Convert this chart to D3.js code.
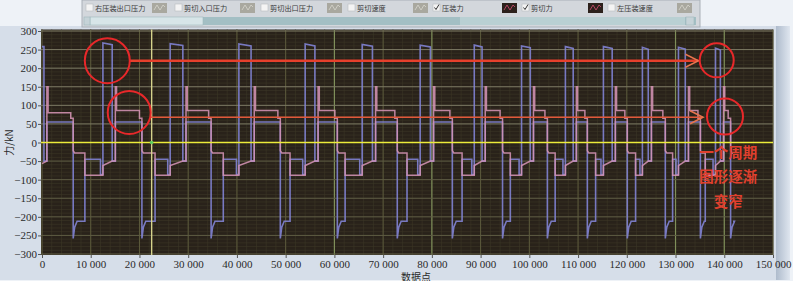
<!DOCTYPE html>
<html><head><meta charset="utf-8">
<script src="https://cdn.jsdelivr.net/npm/d3@7"></script>
<style>
body{margin:0;background:#ffffff;}
svg{display:block;}
</style></head>
<body>
<script>
// ---------------- data ----------------
const legendNames = ["右压装出口压力","剪切入口压力","剪切出口压力","剪切速度","压装力","剪切力","左压装速度"];
const legendChecked = [false,false,false,false,true,true,false];
const seriesNames = ["压装力","剪切力"];
const xTickValues = [0,10000,20000,30000,40000,50000,60000,70000,80000,90000,100000,110000,120000,130000,140000,150000];
const yTickValues = [-300,-250,-200,-150,-100,-50,0,50,100,150,200,250,300];
// cycle event times (data points)
const cycleDrop     = [6400,20500,34700,48900,60600,72900,84200,94500,103700,111900,120100,127900,135100,141300];
const cycleLowEnd   = [8800,23200,37200,50900,62200,74900,86200,96100,105300,113600,121800,129400,136100];
const cycleTopStart = [12500,26300,40400,54000,65700,77600,88700,98400,107400,115200,123200,130600,138200];
const cycleTopEnd   = [14400,28900,42900,56000,67800,79700,90300,100200,109000,117000,124400,132000,139200];
const cycleTop      = [268,266,265,265,264,262,262,260,258,258,256,256,254];
// levels (kN)
const levelsA = {start:258, mid:55, spike:-258, spike2:-228, low:-212, box:-45, box2:-86, after:-50, end:141800};
const levelsB = {start:-57, mid:86, first:80, preDrop:65, drop:-22, low:-28, box:-88, rampStart:-62, rampEnd:-50, step:150};
const phase = {firstTopEnd:400, firstRise:1000, spikeRec:300, spikeSettle:800, preDrop:500, boxDip:500, afterTop:650, stepLen:250};
// cursors
const cursorX = [22500];
const highlightX = [60000,80000,130000,140000];
// annotations (data coordinates)
const circles = [{x:13400,y:220,r:22.5},{x:17900,y:81,r:21.5},{x:138450,y:221,r:17},{x:140150,y:70,r:18}];
const arrows = [{x0:18050,x1:134700,y:220,w:2.3,c:"#e6402c"},{x0:22350,x1:135650,y:68,w:1.6,c:"#e2583a"}];
const noteLines = ["一个周期","图形逐渐","变窄"];
const noteY = [-28,-93,-160];
const noteX = 140800;

// ---------------- build series ----------------
function buildA(){
  const p=[];
  const L=levelsA;
  p.push([0,L.start],[phase.firstTopEnd,L.start],[phase.firstTopEnd,L.after],[phase.firstRise,L.after],[phase.firstRise,L.mid]);
  cycleDrop.forEach((D,i)=>{
    p.push([D,L.mid],[D,L.spike],[D+phase.spikeRec,L.spike2],[D+phase.spikeSettle,L.low]);
    if(i<cycleLowEnd.length){
      const Le=cycleLowEnd[i],T=cycleTopStart[i],E=cycleTopEnd[i];
      p.push([Le,L.low],[Le,L.box],[T-phase.boxDip,L.box],[T-phase.boxDip,L.box2],[T,L.box2],[T,cycleTop[i]],[E,cycleTop[i]-5],[E,L.after],[E+phase.afterTop,L.after],[E+phase.afterTop,L.mid]);
    } else {
      p.push([L.end,L.low]);
    }
  });
  return p;
}
function buildB(){
  const p=[];
  const L=levelsB;
  p.push([0,L.start],[phase.firstRise,L.rampEnd],[phase.firstRise,L.step],[phase.firstRise+phase.stepLen,L.step],[phase.firstRise+phase.stepLen,L.first]);
  cycleDrop.forEach((D,i)=>{
    const lvl = i===0?L.first:L.mid;
    p.push([D-phase.preDrop,lvl],[D-phase.preDrop,L.preDrop],[D,L.preDrop],[D,L.drop],[D+phase.spikeRec,L.low]);
    if(i<cycleLowEnd.length){
      const Le=cycleLowEnd[i],T=cycleTopStart[i],E=cycleTopEnd[i];
      p.push([Le,L.low],[Le,L.box],[T,L.box],[T,L.rampStart],[E,L.rampEnd],[E+phase.afterTop,L.rampEnd],[E+phase.afterTop,L.step],[E+phase.afterTop+phase.stepLen,L.step],[E+phase.afterTop+phase.stepLen,L.mid]);
    } else {
      p.push([levelsA.end,L.low]);
    }
  });
  return p;
}
const seriesA = buildA();
const seriesB = buildB();

// ---------------- drawing ----------------
const W=793,H=289;
const svg=d3.select("body").append("svg").attr("width",W).attr("height",H);
const defs=svg.append("defs");
const gr=defs.append("linearGradient").attr("id","rbar").attr("x1","0").attr("x2","1");
gr.append("stop").attr("offset","0").attr("stop-color","#aebbcc");
gr.append("stop").attr("offset","1").attr("stop-color","#dfe6ef");

svg.append("rect").attr("width",W).attr("height",H).attr("fill","#eef2f7");
svg.append("rect").attr("x",0).attr("y",26).attr("width",778).attr("height",254).attr("fill","#d6dee9");
svg.append("rect").attr("x",776).attr("y",26).attr("width",14).attr("height",254).attr("fill","url(#rbar)");

// legend panel
const lg=svg.append("g");
lg.append("rect").attr("x",82).attr("y",0).attr("width",618).attr("height",27).attr("fill","#d3d7dc").attr("stroke","#a9b0b8").attr("stroke-width",1);
lg.append("rect").attr("x",84).attr("y",17).attr("width",612).attr("height",8).attr("fill","#a3bfc4");
lg.append("rect").attr("x",460).attr("y",17).attr("width",225).attr("height",8).attr("fill","#b9d0d3");
lg.append("rect").attr("x",90).attr("y",17).attr("width",113).attr("height",8).attr("fill","#d7e5e8").attr("stroke","#9fb7bc").attr("stroke-width",0.6);
lg.append("rect").attr("x",84).attr("y",17).attr("width",6).attr("height",8).attr("fill","#c6d3d8").attr("stroke","#9fb7bc").attr("stroke-width",0.6);
lg.append("rect").attr("x",686).attr("y",17).attr("width",8).attr("height",8).attr("fill","#c6d3d8").attr("stroke","#9fb7bc").attr("stroke-width",0.6);
const chkX=[86,175,261,348,433,522,608];
const swX=[152,240,327,413,502,588,677];
legendNames.forEach((n,i)=>{
  lg.append("rect").attr("x",chkX[i]).attr("y",4).attr("width",7).attr("height",7).attr("fill","#f4f4f4").attr("stroke","#b8bcc0").attr("stroke-width",0.6);
  if(legendChecked[i]){
    lg.append("path").attr("d",`M${chkX[i]+1.5},${7.5} L${chkX[i]+3},${9.5} L${chkX[i]+6},${4.5}`).attr("fill","none").attr("stroke","#333").attr("stroke-width",1);
  }
  lg.append("text").attr("x",chkX[i]+9).attr("y",11).text(n)
    .attr("font-family","Noto Sans CJK SC").attr("font-size",7.2).attr("fill","#3a3a3a");
  const dark=legendChecked[i];
  lg.append("rect").attr("x",swX[i]).attr("y",3).attr("width",15).attr("height",10).attr("fill",dark?"#2c211c":"#a9a89f");
  lg.append("path").attr("d",`M${swX[i]+2},${10} L${swX[i]+5},${5} L${swX[i]+8},${10} L${swX[i]+11},${5} L${swX[i]+13},${7}`)
    .attr("fill","none").attr("stroke",dark?"#c24a6a":"#d2d1c8").attr("stroke-width",0.9);
});

// plot
const x=d3.scaleLinear().domain([0,150000]).range([42,773]);
const y=d3.scaleLinear().domain([-300,300]).range([254,31]);
svg.append("rect").attr("x",41).attr("y",29.5).attr("width",732).attr("height",225.5).attr("fill","#29221a");

const grid=svg.append("g");
// minor grid
d3.range(0,150001,2000).forEach(v=>{
  grid.append("line").attr("x1",x(v)).attr("x2",x(v)).attr("y1",29.5).attr("y2",255).attr("stroke","#3d3826").attr("stroke-width",0.6);
});
d3.range(-300,301,10).forEach(v=>{
  grid.append("line").attr("x1",41).attr("x2",773).attr("y1",y(v)).attr("y2",y(v)).attr("stroke","#3d3826").attr("stroke-width",0.6);
});
// major grid
xTickValues.forEach(v=>{
  const hl=highlightX.includes(v);
  grid.append("line").attr("x1",x(v)).attr("x2",x(v)).attr("y1",29.5).attr("y2",255)
   .attr("stroke",hl?"#7f8f5a":"#5c5a3c").attr("stroke-width",hl?1.2:1);
});
yTickValues.forEach(v=>{
  if(v===0) return;
  grid.append("line").attr("x1",41).attr("x2",773).attr("y1",y(v)).attr("y2",y(v))
   .attr("stroke",v>0?"#7c7a64":"#5e5c44").attr("stroke-width",1);
});

// series
const line=d3.line().x(d=>x(d[0])).y(d=>y(d[1]));
svg.append("path").datum(seriesA).attr("d",line).attr("fill","none").attr("stroke","#8183d4").attr("stroke-width",1.6).attr("opacity",0.9);
svg.append("path").datum(seriesB).attr("d",line).attr("fill","none").attr("stroke","#d493b4").attr("stroke-width",1.5).attr("opacity",0.88);

// cursors
svg.append("line").attr("x1",41).attr("x2",773).attr("y1",y(0)).attr("y2",y(0)).attr("stroke","#ecec3a").attr("stroke-width",1.4);
cursorX.forEach(v=>{
  svg.append("line").attr("x1",x(v)).attr("x2",x(v)).attr("y1",29.5).attr("y2",255).attr("stroke","#d6d48c").attr("stroke-width",1.4);
  svg.append("circle").attr("cx",x(v)).attr("cy",y(0)).attr("r",1.8).attr("fill","#5fcf5f");
});

// axes
const fmt=d=>d3.format(",")(d).replace(/,/g," ");
const yAxis=svg.append("g").attr("transform","translate(41,0)")
  .call(d3.axisLeft(y).tickValues(yTickValues).tickSize(3).tickFormat(d3.format("d")));
const xAxis=svg.append("g").attr("transform","translate(0,255)")
  .call(d3.axisBottom(x).tickValues(xTickValues).tickSize(3).tickFormat(fmt));
[yAxis,xAxis].forEach(a=>{
  a.select(".domain").remove();
  a.selectAll("line").attr("stroke","#555");
  a.selectAll("text").attr("font-family","Liberation Serif, serif").attr("font-size",11).attr("fill","#2a2a2a");
});
yAxis.selectAll("text").attr("x",-4);
xAxis.selectAll("text").attr("y",5);

svg.append("text").attr("transform",`translate(13,${y(0)}) rotate(-90)`).attr("text-anchor","middle")
  .attr("font-family","Noto Sans CJK SC").attr("font-size",10).attr("fill","#2a2a2a").text("力/kN");
svg.append("text").attr("x",416).attr("y",281).attr("text-anchor","middle")
  .attr("font-family","Noto Sans CJK SC").attr("font-size",10).attr("fill","#2a2a2a").text("数据点");
svg.append("rect").attr("x",0).attr("y",281).attr("width",W).attr("height",8).attr("fill","#ffffff");

// annotations
const ann=svg.append("g");
arrows.forEach(a=>{
  const x0=x(a.x0),x1=x(a.x1),yy=y(a.y);
  ann.append("line").attr("x1",x0).attr("x2",x1).attr("y1",yy).attr("y2",yy).attr("stroke",a.c).attr("stroke-width",a.w);
  ann.append("path").attr("d",`M${x1-13},${yy-6.5} L${x1},${yy} L${x1-13},${yy+6.5}`).attr("fill","none").attr("stroke","#e8744e").attr("stroke-width",1.5);
});
circles.forEach(c=>{
  ann.append("circle").attr("cx",x(c.x)).attr("cy",y(c.y)).attr("r",c.r).attr("fill","none").attr("stroke","#e8282a").attr("stroke-width",2);
});
noteLines.forEach((t,i)=>{
  ann.append("text").attr("x",x(noteX)).attr("y",y(noteY[i])).attr("dy","0.35em").attr("text-anchor","middle")
    .attr("font-family","Noto Sans CJK SC").attr("font-weight",700).attr("font-size",14.5).attr("fill","#e0402e").text(t);
});
</script>
</body></html>
